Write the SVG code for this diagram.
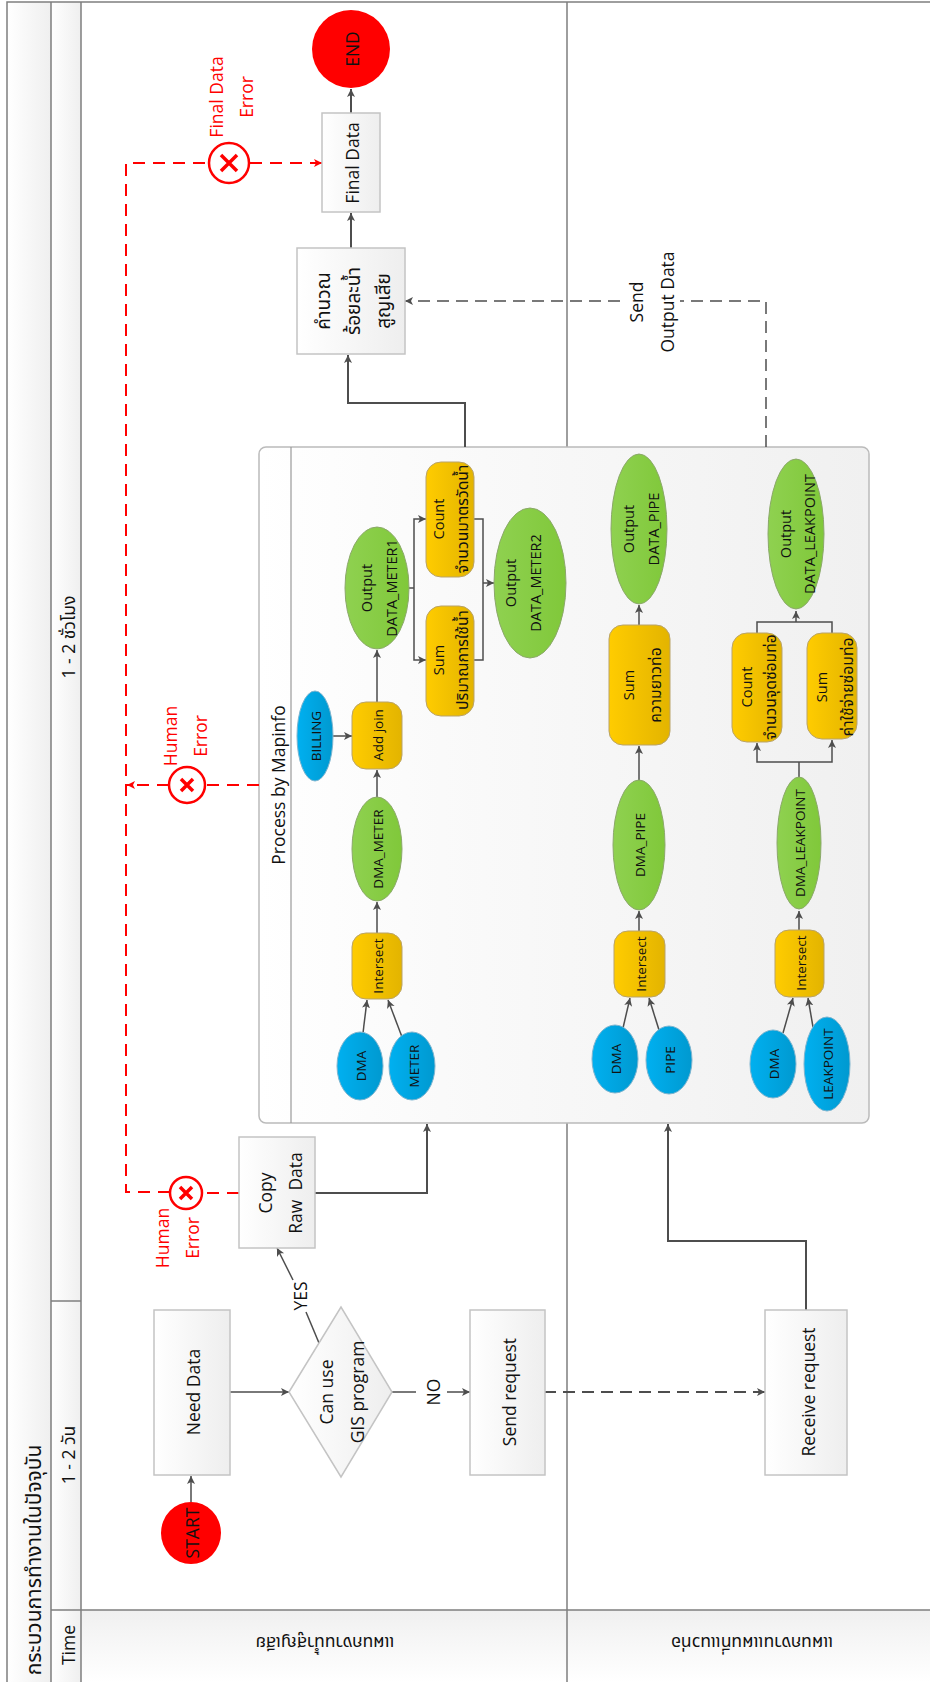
<svg xmlns="http://www.w3.org/2000/svg" width="930" height="1683" viewBox="0 0 930 1683">
<defs>
<style>
text{font-family:"Open Sans","Noto Sans","Noto Sans Thai","DejaVu Sans",sans-serif;fill:#111;text-anchor:middle;dominant-baseline:central;font-size:17.5px}
.s{font-size:13.5px}
.m{font-size:14.5px}
.th{font-size:15.7px}
.r{fill:#f00;font-size:17.5px}
.lane{fill:none;stroke:#7f7f7f;stroke-width:1.5}
.box{fill:url(#gw);stroke:#c4c4c4;stroke-width:1.5}
.or{fill:url(#go);stroke:#b9a36a;stroke-width:1}
.gr{fill:url(#gg);stroke:#8ba86a;stroke-width:1}
.bl{fill:url(#gb);stroke:#7cb4cf;stroke-width:1}
.c{fill:none;stroke:#4d4d4d;stroke-width:1.5}
.c2{fill:none;stroke:#4d4d4d;stroke-width:2}
.a{marker-end:url(#ar)}
.d{stroke-dasharray:12 7}
.rd{fill:none;stroke:#f00;stroke-width:2;stroke-dasharray:12 8}
.ic{fill:#fff;stroke:#f00;stroke-width:2.5}
.x{fill:none;stroke:#f00;stroke-width:3.5}
</style>
<linearGradient id="gw"><stop offset="0" stop-color="#fff"/><stop offset="1" stop-color="#eee"/></linearGradient>
<linearGradient id="gh"><stop offset="0" stop-color="#fff"/><stop offset="1" stop-color="#efefef"/></linearGradient>
<linearGradient id="gp"><stop offset="0" stop-color="#fff"/><stop offset="0.3" stop-color="#fafafa"/><stop offset="1" stop-color="#f0f0f0"/></linearGradient>
<linearGradient id="gv" x2="0" y2="1"><stop offset="0" stop-color="#f0f0f0"/><stop offset="1" stop-color="#fff"/></linearGradient>
<linearGradient id="go"><stop offset="0" stop-color="#fc0"/><stop offset="1" stop-color="#e3b400"/></linearGradient>
<linearGradient id="gg"><stop offset="0" stop-color="#8fd150"/><stop offset="1" stop-color="#80c83a"/></linearGradient>
<linearGradient id="gb"><stop offset="0" stop-color="#00b0f0"/><stop offset="1" stop-color="#0099d0"/></linearGradient>
<marker id="ar" markerUnits="userSpaceOnUse" markerWidth="10" markerHeight="10" refX="8" refY="4" orient="auto"><path d="M0 0L8 4L0 8L2 4Z" fill="#4d4d4d"/></marker>
<marker id="arr" markerUnits="userSpaceOnUse" markerWidth="10" markerHeight="10" refX="8" refY="4" orient="auto"><path d="M0 0L8 4L0 8L2 4Z" fill="#f00"/></marker>
</defs>
<rect width="930" height="1683" fill="#fff"/>
<g id="frame">
<rect x="7" y="2" width="44" height="1680" fill="url(#gh)"/>
<rect x="51" y="2" width="30" height="1680" fill="url(#gh)"/>
<rect x="81" y="1610" width="849" height="72" fill="url(#gv)"/>
<path class="lane" d="M930 2H7V1682M51 2V1682M81 2V1682M51 1301H81M51 1610H930M567 2V1682"/>
<text x="33" y="1560" transform="rotate(-90 33 1560)" style="font-size:21px">กระบวนการทำงานในปัจจุบัน</text>
<text x="68" y="1455" transform="rotate(-90 68 1455)">1 - 2 วัน</text>
<text x="68" y="637" transform="rotate(-90 68 637)">1 - 2 ชั่วโมง</text>
<text x="68" y="1645" transform="rotate(-90 68 1645)">Time</text>
<text x="325" y="1644" transform="rotate(180 325 1644)">แผนกงานน้ำสูญเสีย</text>
<text x="752" y="1644" transform="rotate(180 752 1644)">แผนกงานแผนที่แนวท่อ</text>
</g>
<g id="process">
<rect x="259" y="447" width="610" height="676" rx="7" fill="url(#gp)" stroke="#bbb" stroke-width="1.5"/>
<path d="M291 447V1123" stroke="#999" stroke-width="1.2"/>
<text x="278" y="785" transform="rotate(-90 278 785)" style="font-size:17.5px">Process by Mapinfo</text>
</g>
<g id="connectors">
<path class="c a" d="M191 1502V1476"/>
<path class="c a" d="M230 1392H289"/>
<path class="c" d="M392 1392H416"/>
<path class="c a" d="M447 1392H470"/>
<path class="c" d="M319 1343L306 1312"/>
<path class="c a" d="M293 1280L277 1248"/>
<path class="c d a" style="stroke-width:2" d="M544 1392H765"/>
<path class="c2 a" d="M806 1310V1241H668V1124"/>
<path class="c2 a" d="M315 1193H427V1124"/>
<path class="c2 a" d="M465 447V403H348V355"/>
<path class="c d" d="M766 447V301H680"/>
<path class="c d a" d="M620 301H405"/>
<path class="c2 a" d="M351 248V213"/>
<path class="c2 a" d="M351 113V89"/>
<path class="rd" d="M239 1193H203"/>
<path class="rd" d="M170 1192H126V163H209"/>
<path class="rd" style="marker-end:url(#arr)" d="M250 163H322"/>
<path class="rd" d="M259 785H206"/>
<path class="rd" style="marker-end:url(#arr)" d="M169 785H127"/>
<path class="c a" d="M363 1033L367 1000"/>
<path class="c a" d="M402 1037L388 1000"/>
<path class="c a" d="M377 933V902"/>
<path class="c a" d="M377 797V770"/>
<path class="c a" d="M333 736H352"/>
<path class="c a" d="M377 702V650"/>
<path class="c" d="M409 588H414"/>
<path class="c a" d="M414 588V519H426"/>
<path class="c a" d="M414 588V660H426"/>
<path class="c" d="M474 519H483V660H474"/>
<path class="c a" d="M483 583H494"/>
<path class="c a" d="M639 625V605"/>
<path class="c a" d="M639 781V746"/>
<path class="c a" d="M639 931V911"/>
<path class="c a" d="M623 1028L630 998"/>
<path class="c a" d="M659 1030L649 998"/>
<path class="c" d="M757 633V622H832V633"/>
<path class="c a" d="M796 622V611"/>
<path class="c" d="M799 777V762"/>
<path class="c a" d="M799 762H757V743"/>
<path class="c a" d="M799 762H832V740"/>
<path class="c a" d="M799 930V911"/>
<path class="c a" d="M783 1033L793 998"/>
<path class="c a" d="M813 1027L808 998"/>
</g>
<g id="start"><ellipse cx="191" cy="1533" rx="30" ry="31" fill="#f00"/><text x="192" y="1533" transform="rotate(-90 192 1533)">START</text></g>
<g id="need-data"><rect class="box" x="154" y="1310" width="76" height="165"/><text x="193" y="1392" transform="rotate(-90 193 1392)">Need Data</text></g>
<g id="can-use"><path d="M289 1392L341 1307L392 1392L341 1477Z" fill="url(#gw)" stroke="#c4c4c4" stroke-width="1.5"/><text x="326" y="1392" transform="rotate(-90 326 1392)">Can use</text><text x="357" y="1392" transform="rotate(-90 357 1392)">GIS program</text></g>
<g id="send-request"><rect class="box" x="470" y="1310" width="75" height="165"/><text x="509" y="1392" transform="rotate(-90 509 1392)">Send request</text></g>
<g id="receive-request"><rect class="box" x="765" y="1310" width="82" height="165"/><text x="808" y="1392" transform="rotate(-90 808 1392)">Receive request</text></g>
<g id="copy-raw"><rect class="box" x="239" y="1137" width="76" height="111"/><text x="265" y="1193" transform="rotate(-90 265 1193)">Copy</text><text x="295" y="1193" transform="rotate(-90 295 1193)">Raw&#160;&#160;Data</text></g>
<g id="calc"><rect class="box" x="297" y="248" width="108" height="106"/><text x="323" y="301" transform="rotate(-90 323 301)" style="font-size:19px">คำนวณ</text><text x="353" y="301" transform="rotate(-90 353 301)" style="font-size:19px">ร้อยละน้ำ</text><text x="383" y="301" transform="rotate(-90 383 301)" style="font-size:19px">สูญเสีย</text></g>
<g id="final-data"><rect class="box" x="322" y="113" width="58" height="99"/><text x="352" y="163" transform="rotate(-90 352 163)">Final Data</text></g>
<g id="end"><circle cx="351" cy="49" r="39" fill="#f00"/><text x="352" y="49" transform="rotate(-90 352 49)">END</text></g>
<g id="label-yes"><text x="300" y="1296" transform="rotate(-90 300 1296)">YES</text></g>
<g id="label-no"><text x="433" y="1392" transform="rotate(-90 433 1392)">NO</text></g>
<g id="label-send"><text x="636" y="302" transform="rotate(-90 636 302)">Send</text><text x="667" y="302" transform="rotate(-90 667 302)">Output Data</text></g>
<g id="err-copy"><circle class="ic" cx="186" cy="1193" r="16"/><path class="x" d="M180 1187L192 1199M192 1187L180 1199"/><text class="r" x="162" y="1238" transform="rotate(-90 162 1238)">Human</text><text class="r" x="192" y="1238" transform="rotate(-90 192 1238)">Error</text></g>
<g id="err-process"><circle class="ic" cx="187" cy="785" r="18"/><path class="x" d="M181 779L193 791M193 779L181 791"/><text class="r" x="170" y="736" transform="rotate(-90 170 736)">Human</text><text class="r" x="200" y="736" transform="rotate(-90 200 736)">Error</text></g>
<g id="err-final"><circle class="ic" cx="229" cy="163" r="20"/><path class="x" d="M221 155L237 171M237 155L221 171"/><text class="r" x="216" y="97" transform="rotate(-90 216 97)">Final Data</text><text class="r" x="246" y="97" transform="rotate(-90 246 97)">Error</text></g>
<g id="r1-dma"><ellipse class="bl" cx="360" cy="1066" rx="23" ry="34"/><text class="s" x="361" y="1066" transform="rotate(-90 361 1066)">DMA</text></g>
<g id="r1-meter"><ellipse class="bl" cx="412" cy="1066" rx="23" ry="34"/><text class="s" x="414" y="1066" transform="rotate(-90 414 1066)">METER</text></g>
<g id="r1-intersect"><rect class="or" x="352" y="933" width="50" height="66" rx="14"/><text class="s" x="378" y="966" transform="rotate(-90 378 966)">Intersect</text></g>
<g id="r1-dma-meter"><ellipse class="gr" cx="377" cy="849" rx="25" ry="52"/><text class="s" x="378" y="849" transform="rotate(-90 378 849)">DMA_METER</text></g>
<g id="r1-billing"><ellipse class="bl" cx="315" cy="736" rx="18" ry="45"/><text class="s" x="316" y="736" transform="rotate(-90 316 736)">BILLING</text></g>
<g id="r1-addjoin"><rect class="or" x="352" y="702" width="50" height="67" rx="14"/><text class="s" x="378" y="735" transform="rotate(-90 378 735)">Add join</text></g>
<g id="r1-output1"><ellipse class="gr" cx="377" cy="588" rx="32" ry="61"/><text class="m" x="366" y="588" transform="rotate(-90 366 588)">Output</text><text class="m" x="391" y="588" transform="rotate(-90 391 588)">DATA_METER1</text></g>
<g id="r1-count"><rect class="or" x="426" y="462" width="48" height="115" rx="15"/><text class="m" x="438" y="519" transform="rotate(-90 438 519)">Count</text><text class="th" x="462" y="519" transform="rotate(-90 462 519)">จำนวนมาตรวัดน้ำ</text></g>
<g id="r1-sum"><rect class="or" x="426" y="606" width="48" height="110" rx="15"/><text class="m" x="438" y="660" transform="rotate(-90 438 660)">Sum</text><text class="th" x="462" y="660" transform="rotate(-90 462 660)">ปริมาณการใช้น้ำ</text></g>
<g id="r1-output2"><ellipse class="gr" cx="530" cy="583" rx="36" ry="75"/><text class="m" x="510" y="583" transform="rotate(-90 510 583)">Output</text><text class="m" x="535" y="583" transform="rotate(-90 535 583)">DATA_METER2</text></g>
<g id="r2-dma"><ellipse class="bl" cx="615" cy="1059" rx="23" ry="34"/><text class="s" x="616" y="1059" transform="rotate(-90 616 1059)">DMA</text></g>
<g id="r2-pipe"><ellipse class="bl" cx="669" cy="1060" rx="23" ry="34"/><text class="s" x="670" y="1060" transform="rotate(-90 670 1060)">PIPE</text></g>
<g id="r2-intersect"><rect class="or" x="614" y="931" width="51" height="66" rx="14"/><text class="s" x="641" y="964" transform="rotate(-90 641 964)">Intersect</text></g>
<g id="r2-dma-pipe"><ellipse class="gr" cx="639" cy="845" rx="26" ry="65"/><text class="s" x="640" y="845" transform="rotate(-90 640 845)">DMA_PIPE</text></g>
<g id="r2-sum"><rect class="or" x="609" y="625" width="61" height="120" rx="14"/><text class="m" x="628" y="685" transform="rotate(-90 628 685)">Sum</text><text class="th" x="655" y="685" transform="rotate(-90 655 685)">ความยาวท่อ</text></g>
<g id="r2-output"><ellipse class="gr" cx="639" cy="529" rx="28" ry="75"/><text class="m" x="628" y="529" transform="rotate(-90 628 529)">Output</text><text class="m" x="653" y="529" transform="rotate(-90 653 529)">DATA_PIPE</text></g>
<g id="r3-dma"><ellipse class="bl" cx="773" cy="1064" rx="23" ry="34"/><text class="s" x="774" y="1064" transform="rotate(-90 774 1064)">DMA</text></g>
<g id="r3-leakpoint"><ellipse class="bl" cx="827" cy="1064" rx="23" ry="47"/><text class="s" x="828" y="1064" transform="rotate(-90 828 1064)">LEAKPOINT</text></g>
<g id="r3-intersect"><rect class="or" x="775" y="930" width="49" height="67" rx="14"/><text class="s" x="801" y="963" transform="rotate(-90 801 963)">Intersect</text></g>
<g id="r3-dma-leak"><ellipse class="gr" cx="799" cy="843" rx="22" ry="66"/><text class="s" x="800" y="843" transform="rotate(-90 800 843)">DMA_LEAKPOINT</text></g>
<g id="r3-count"><rect class="or" x="732" y="633" width="50" height="109" rx="15"/><text class="m" x="746" y="687" transform="rotate(-90 746 687)">Count</text><text class="th" x="770" y="687" transform="rotate(-90 770 687)">จำนวนจุดซ่อมท่อ</text></g>
<g id="r3-sum"><rect class="or" x="807" y="633" width="50" height="106" rx="15"/><text class="m" x="821" y="687" transform="rotate(-90 821 687)">Sum</text><text class="th" x="847" y="687" transform="rotate(-90 847 687)">ค่าใช้จ่ายซ่อมท่อ</text></g>
<g id="r3-output"><ellipse class="gr" cx="796" cy="534" rx="28" ry="75"/><text class="m" x="785" y="534" transform="rotate(-90 785 534)">Output</text><text class="m" x="809" y="534" transform="rotate(-90 809 534)">DATA_LEAKPOINT</text></g>
</svg>
